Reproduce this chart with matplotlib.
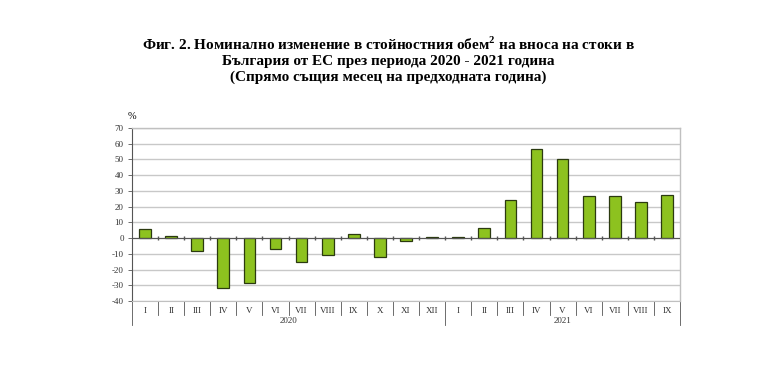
import matplotlib.pyplot as plt
import matplotlib.transforms as mtransforms
import numpy as np

months_2020 = ['I', 'II', 'III', 'IV', 'V', 'VI', 'VII', 'VIII', 'IX', 'X', 'XI', 'XII']
months_2021 = ['I', 'II', 'III', 'IV', 'V', 'VI', 'VII', 'VIII', 'IX']
values_2020 = [5.5, 1.5, -8.5, -32.0, -28.5, -7.0, -15.0, -10.5, 2.5, -12.0, -2.0, 1.0]
values_2021 = [1.0, 6.5, 24.0, 56.5, 50.5, 26.5, 26.5, 23.0, 27.5]
years = ['2020', '2021']
yticks = list(range(-40, 80, 10))

title = ('Фиг. 2. Номинално изменение в стойностния обем$^{\\mathbf{2}}$ на вноса на стоки в\n'
         'България от ЕС през периода 2020 - 2021 година\n'
         '(Спрямо същия месец на предходната година)')

plt.rcParams['font.family'] = ['Liberation Serif', 'DejaVu Serif']
plt.rcParams['mathtext.fontset'] = 'custom'
plt.rcParams['mathtext.bf'] = 'Liberation Serif:bold'

labels = months_2020 + months_2021
values = values_2020 + values_2021
x = np.arange(len(values))

fig = plt.figure(figsize=(7.68, 3.66), dpi=100)
ax = fig.add_axes([132 / 768, 1 - 301 / 366, 548 / 768, 173 / 366])

ax.bar(x, values, width=0.45, color='#8dc21f', edgecolor='#2b3a10', linewidth=0.9, zorder=3)

ax.set_xlim(-0.5, len(values) - 0.5)
ax.set_ylim(-40, 70)
ax.set_yticks(yticks)
ax.set_yticklabels([str(v) for v in yticks], fontsize=6.5, color='#333333')
ax.yaxis.grid(True, color='#c8c8c8', linewidth=1.0, zorder=0)
ax.tick_params(axis='y', length=3, width=0.6, color='#555555', pad=3)

ax.set_xticks(x)
ax.set_xticklabels(labels, fontsize=6.5, color='#333333')
ax.tick_params(axis='x', length=0, pad=4)

for side in ['top', 'right']:
    ax.spines[side].set_color('#c0c0c0')
    ax.spines[side].set_linewidth(1.0)
ax.spines['bottom'].set_color('#c0c0c0')
ax.spines['left'].set_color('#555555')
ax.spines['left'].set_linewidth(0.8)

# zero line with small ticks between the months
ax.axhline(0, color='#555555', linewidth=0.8, zorder=4)
bounds = np.arange(len(values) + 1) - 0.5
ax.plot(bounds[1:-1], np.zeros(len(bounds) - 2), linestyle='none', marker='|',
        markersize=3, color='#555555', zorder=4)

# separators below the axis and year labels
trans = mtransforms.blended_transform_factory(ax.transData, ax.transAxes)
year_bounds = [-0.5, len(months_2020) - 0.5, len(values) - 0.5]
for b in bounds:
    low = -0.14 if b in year_bounds else -0.08
    ax.plot([b, b], [0, low], transform=trans, color='#555555', linewidth=0.6, clip_on=False)
for i, yr in enumerate(years):
    ax.text((year_bounds[i] + year_bounds[i + 1]) / 2, -0.115, yr, transform=trans,
            ha='center', va='center', fontsize=6.5, color='#333333')

ax.text(0, 1.04, '%', transform=ax.transAxes, ha='center', va='bottom', fontsize=7.5)

fig.text(388 / 768, 1 - 36 / 366, title, ha='center', va='top', fontsize=11,
         fontweight='bold', linespacing=1.22)

fig.savefig('out.png', dpi=100)
